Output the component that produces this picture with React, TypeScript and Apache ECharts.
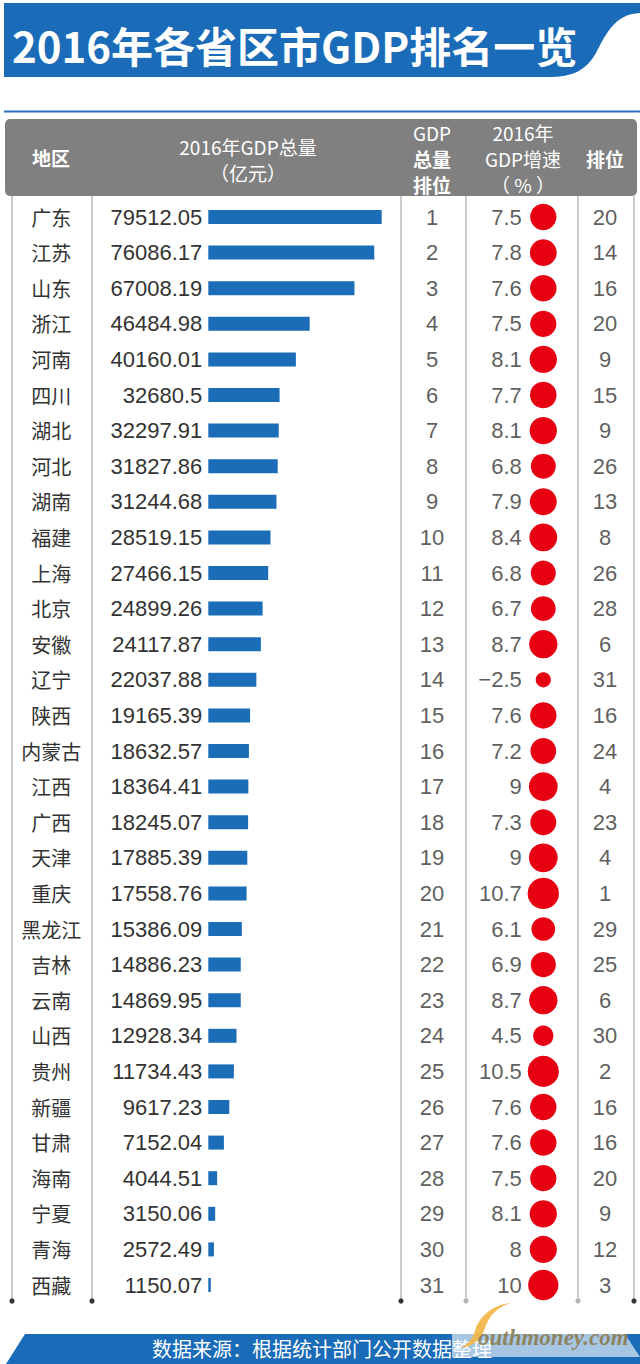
import React, { useEffect, useRef } from "react";
import * as echarts from "echarts";

const provinces = ["广东", "江苏", "山东", "浙江", "河南", "四川", "湖北", "河北", "湖南", "福建", "上海", "北京", "安徽", "辽宁", "陕西", "内蒙古", "江西", "广西", "天津", "重庆", "黑龙江", "吉林", "云南", "山西", "贵州", "新疆", "甘肃", "海南", "宁夏", "青海", "西藏"];
const gdp = [79512.05, 76086.17, 67008.19, 46484.98, 40160.01, 32680.5, 32297.91, 31827.86, 31244.68, 28519.15, 27466.15, 24899.26, 24117.87, 22037.88, 19165.39, 18632.57, 18364.41, 18245.07, 17885.39, 17558.76, 15386.09, 14886.23, 14869.95, 12928.34, 11734.43, 9617.23, 7152.04, 4044.51, 3150.06, 2572.49, 1150.07];
const gdpRank = [1, 2, 3, 4, 5, 6, 7, 8, 9, 10, 11, 12, 13, 14, 15, 16, 17, 18, 19, 20, 21, 22, 23, 24, 25, 26, 27, 28, 29, 30, 31];
const growth = [7.5, 7.8, 7.6, 7.5, 8.1, 7.7, 8.1, 6.8, 7.9, 8.4, 6.8, 6.7, 8.7, -2.5, 7.6, 7.2, 9, 7.3, 9, 10.7, 6.1, 6.9, 8.7, 4.5, 10.5, 7.6, 7.6, 7.5, 8.1, 8, 10];
const growthRank = [20, 14, 16, 20, 9, 15, 9, 26, 13, 8, 26, 28, 6, 31, 16, 24, 4, 23, 4, 1, 29, 25, 6, 30, 2, 16, 16, 20, 9, 12, 3];

const titleText = "2016年各省区市GDP排名一览";
const footerText = "数据来源：根据统计部门公开数据整理";
const watermarkText = "outhmoney.com";

echarts.graphic.registerShape(
  "titleBanner",
  echarts.graphic.extendPath("M4 3 L640 3 L640 13 C614 14 605 36 596 53 C586 70 574 77 548 77 L4 77 Z", {})
);
echarts.graphic.registerShape(
  "swoosh",
  echarts.graphic.extendPath("M511 1303 C492 1305 479 1317 475 1331 C472 1340 467 1345 460 1348 C472 1347 481 1340 485 1328 C489 1316 497 1307 511 1303 Z", {})
);

const NUM = "'Liberation Sans', Arial, 'Noto Sans CJK SC', sans-serif";
const CJK = "'Noto Sans CJK SC', 'Liberation Sans', sans-serif";
const TOP = 199.2;
const HEIGHT = 1103.6;

export default function App() {
  const ref = useRef<HTMLDivElement>(null);
  useEffect(() => {
    if (!ref.current) return;
    const chart = echarts.init(ref.current, null, { renderer: "svg" });

    const hdr = (text: string, x: number, y: number, size = 19, weight: any = "normal") => ({
      type: "text",
      x,
      y,
      style: { text, fill: "#ffffff", font: `${weight} ${size}px ${CJK}`, align: "center", verticalAlign: "middle" },
    });

    const colX = [12, 92, 401, 466, 578, 634];
    const dotDark = [true, true, true, false, false, true];
    const lines: any[] = [];
    colX.forEach((x, i) => {
      lines.push({ type: "line", shape: { x1: x, y1: 196, x2: x, y2: 1301 }, style: { stroke: "#b0b0b0", lineWidth: 1.3 } });
      lines.push({ type: "circle", shape: { cx: x, cy: 1301, r: 2.6 }, style: { fill: dotDark[i] ? "#333333" : "#b5b5b5" } });
    });

    const yCat = (gridIndex: number, showLabel = false) => ({
      type: "category",
      gridIndex,
      data: provinces,
      inverse: true,
      axisLine: { show: false },
      axisTick: { show: false },
      splitLine: { show: false },
      axisLabel: showLabel
        ? { show: true, align: "center", margin: 157, fontSize: 20, color: "#333333", fontFamily: CJK }
        : { show: false },
    });

    const option: any = {
      animation: false,
      backgroundColor: "#ffffff",
      grid: [
        { left: 208.3, width: 218.1, top: TOP, height: HEIGHT },
        { left: 400, width: 64, top: TOP, height: HEIGHT },
        { left: 508.3, width: 70, top: TOP, height: HEIGHT },
        { left: 577, width: 56, top: TOP, height: HEIGHT },
      ],
      xAxis: [
        { type: "value", gridIndex: 0, min: 0, max: 100000, show: false },
        { type: "category", gridIndex: 1, data: ["GDP总量排位"], show: false },
        { type: "category", gridIndex: 2, data: ["GDP增速"], show: false },
        { type: "category", gridIndex: 3, data: ["增速排位"], show: false },
      ],
      yAxis: [yCat(0, true), yCat(1), yCat(2), yCat(3)],
      series: [
        {
          type: "bar",
          xAxisIndex: 0,
          yAxisIndex: 0,
          data: gdp,
          barWidth: 14,
          itemStyle: { color: "#1b6db7" },
          label: {
            show: true,
            position: "left",
            distance: 6,
            fontSize: 22,
            color: "#333333",
            fontFamily: NUM,
            formatter: (p: any) => String(p.value),
          },
        },
        {
          type: "scatter",
          xAxisIndex: 1,
          yAxisIndex: 1,
          data: gdpRank.map((r, i) => ["GDP总量排位", provinces[i], r]),
          symbolSize: 0.1,
          itemStyle: { color: "rgba(0,0,0,0)" },
          label: {
            show: true,
            position: "inside",
            fontSize: 22,
            color: "#333333",
            fontFamily: NUM,
            formatter: (p: any) => String(p.value[2]),
          },
        },
        {
          type: "scatter",
          xAxisIndex: 2,
          yAxisIndex: 2,
          data: growth.map((g, i) => ["GDP增速", provinces[i], g]),
          symbolSize: (v: any) => 9.6 * Math.sqrt(Math.abs(v[2])),
          itemStyle: { color: "#e60012", opacity: 1 },
        },
        {
          type: "scatter",
          xAxisIndex: 2,
          yAxisIndex: 2,
          data: growth.map((g, i) => ["GDP增速", provinces[i], g]),
          symbolSize: 0.1,
          itemStyle: { color: "rgba(0,0,0,0)" },
          label: {
            show: true,
            position: "left",
            distance: 21.5,
            fontSize: 22,
            color: "#333333",
            fontFamily: NUM,
            formatter: (p: any) => String(p.value[2]).replace("-", "−"),
          },
        },
        {
          type: "scatter",
          xAxisIndex: 3,
          yAxisIndex: 3,
          data: growthRank.map((r, i) => ["增速排位", provinces[i], r]),
          symbolSize: 0.1,
          itemStyle: { color: "rgba(0,0,0,0)" },
          label: {
            show: true,
            position: "inside",
            fontSize: 22,
            color: "#333333",
            fontFamily: NUM,
            formatter: (p: any) => String(p.value[2]),
          },
        },
      ],
      graphic: [
        { type: "titleBanner", x: 0, y: 0, style: { fill: "#1a6bb8" } },
        {
          type: "text",
          x: 12,
          y: 44,
          style: { text: titleText, fill: "#ffffff", font: `bold 42px ${CJK}`, align: "left", verticalAlign: "middle" },
        },
        { type: "rect", shape: { x: 4, y: 110.5, width: 636, height: 2 }, style: { fill: "#2a74bd" } },
        { type: "rect", shape: { x: 5, y: 119, width: 632, height: 77, r: 5 }, style: { fill: "#808080" } },
        hdr("地区", 51, 157, 19, "bold"),
        hdr("2016年GDP总量", 248, 146),
        hdr("（亿元）", 248, 172),
        hdr("GDP", 432, 132),
        hdr("总量", 432, 158, 19, "bold"),
        hdr("排位", 432, 184, 19, "bold"),
        hdr("2016年", 523, 132),
        hdr("GDP增速", 523, 158),
        hdr("（ % ）", 523, 184),
        hdr("排位", 605, 158, 19, "bold"),
        ...lines,
        {
          type: "polygon",
          shape: { points: [[25, 1334], [640, 1334], [640, 1364], [6, 1364]] },
          style: { fill: "#1a6bb8" },
        },
        {
          type: "text",
          x: 322,
          y: 1348,
          style: { text: footerText, fill: "#ffffff", font: `normal 20px ${CJK}`, align: "center", verticalAlign: "middle" },
        },
        {
          type: "polygon",
          shape: { points: [[452, 1334], [625, 1334], [640, 1357], [452, 1357]] },
          style: { fill: "#ffffff", opacity: 0.62 },
        },
        { type: "swoosh", x: 0, y: 0, style: { fill: "#f2b443", opacity: 0.9 } },
        {
          type: "text",
          x: 478,
          y: 1337,
          style: { text: watermarkText, fill: "#8a7a4c", font: `italic bold 23px 'Liberation Serif', 'DejaVu Serif', serif`, align: "left", verticalAlign: "middle", opacity: 0.9 },
        },
      ],
    };
    chart.setOption(option);
    return () => chart.dispose();
  }, []);
  return <div ref={ref} style={{ position: "fixed", left: 0, top: 0, width: 640, height: 1364 }} />;
}
